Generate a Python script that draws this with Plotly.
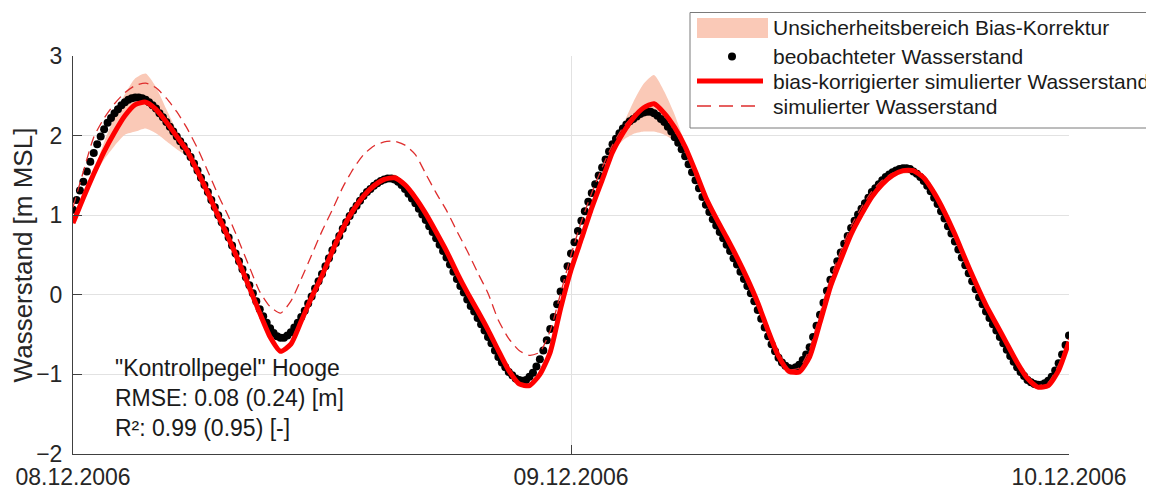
import pandas as pd
import plotly.graph_objects as go

start = "2006-12-08 00:00"
end = "2006-12-10 00:00"
obs_time = pd.date_range(start, periods=289, freq="10min")
sim_time = pd.date_range(start, periods=97, freq="30min")

# observed water level, 10-minute values (m MSL)
observed = [
    1.07, 1.19, 1.31, 1.42, 1.55, 1.67,
    1.78, 1.89, 1.99, 2.08, 2.16, 2.22,
    2.28, 2.33, 2.38, 2.42, 2.45, 2.47,
    2.48, 2.48, 2.47, 2.45, 2.42, 2.38,
    2.34, 2.28, 2.23, 2.17, 2.11, 2.05,
    1.99, 1.93, 1.87, 1.80, 1.73, 1.65,
    1.56, 1.47, 1.38, 1.29, 1.19, 1.10,
    1.00, 0.91, 0.81, 0.72, 0.62, 0.52,
    0.42, 0.32, 0.22, 0.12, 0.02, -0.08,
    -0.18, -0.27, -0.35, -0.42, -0.48, -0.52,
    -0.54, -0.54, -0.51, -0.47, -0.41, -0.35,
    -0.28, -0.20, -0.11, -0.02, 0.08, 0.17,
    0.26, 0.36, 0.46, 0.56, 0.65, 0.74,
    0.83, 0.91, 0.99, 1.06, 1.12, 1.18,
    1.24, 1.29, 1.33, 1.37, 1.40, 1.43,
    1.45, 1.46, 1.46, 1.45, 1.42, 1.38,
    1.33, 1.27, 1.21, 1.15, 1.08, 1.01,
    0.94, 0.86, 0.79, 0.71, 0.63, 0.55,
    0.47, 0.38, 0.29, 0.20, 0.11, 0.03,
    -0.06, -0.14, -0.21, -0.29, -0.37, -0.45,
    -0.53, -0.61, -0.70, -0.78, -0.85, -0.91,
    -0.97, -1.01, -1.05, -1.07, -1.08, -1.07,
    -1.03, -0.98, -0.90, -0.81, -0.70, -0.57,
    -0.43, -0.28, -0.12, 0.04, 0.20, 0.36,
    0.52, 0.66, 0.80, 0.93, 1.05, 1.17,
    1.28, 1.39, 1.50, 1.60, 1.70, 1.80,
    1.89, 1.96, 2.03, 2.09, 2.14, 2.18,
    2.21, 2.24, 2.27, 2.29, 2.30, 2.30,
    2.28, 2.25, 2.21, 2.17, 2.11, 2.05,
    1.98, 1.91, 1.83, 1.74, 1.64, 1.54,
    1.44, 1.34, 1.23, 1.13, 1.04, 0.95,
    0.87, 0.79, 0.71, 0.63, 0.55, 0.46,
    0.38, 0.29, 0.20, 0.11, 0.02, -0.08,
    -0.19, -0.30, -0.41, -0.52, -0.62, -0.71,
    -0.79, -0.85, -0.89, -0.92, -0.93, -0.91,
    -0.88, -0.82, -0.75, -0.66, -0.53, -0.39,
    -0.25, -0.10, 0.05, 0.19, 0.31, 0.42,
    0.53, 0.64, 0.74, 0.84, 0.93, 1.01,
    1.08, 1.15, 1.22, 1.29, 1.34, 1.39,
    1.44, 1.48, 1.51, 1.54, 1.56, 1.58,
    1.59, 1.59, 1.58, 1.55, 1.52, 1.48,
    1.43, 1.37, 1.30, 1.22, 1.14, 1.05,
    0.96, 0.86, 0.77, 0.67, 0.57, 0.47,
    0.37, 0.27, 0.17, 0.07, -0.03, -0.12,
    -0.21, -0.29, -0.37, -0.45, -0.53, -0.61,
    -0.69, -0.77, -0.84, -0.91, -0.97, -1.02,
    -1.07, -1.10, -1.12, -1.13, -1.13, -1.11,
    -1.08, -1.03, -0.95, -0.86, -0.75, -0.63,
    -0.51,
]

# bias-corrected simulated water level, 30-minute values
bias_corrected = [
    0.90, 1.22, 1.52, 1.80, 2.04, 2.25, 2.39, 2.42, 2.33, 2.17,
    1.99, 1.81, 1.55, 1.28, 0.99, 0.71, 0.41, 0.09, -0.23, -0.53,
    -0.71, -0.62, -0.33, -0.03, 0.24, 0.55, 0.83, 1.06, 1.24, 1.37,
    1.45, 1.47, 1.38, 1.22, 1.02, 0.79, 0.55, 0.28, 0.03, -0.20,
    -0.44, -0.70, -0.95, -1.12, -1.14, -1.00, -0.72, -0.17, 0.31, 0.70,
    1.09, 1.44, 1.79, 2.03, 2.22, 2.35, 2.40, 2.28, 2.10, 1.86,
    1.55, 1.22, 0.96, 0.72, 0.47, 0.20, -0.10, -0.45, -0.77, -0.96,
    -0.97, -0.78, -0.35, 0.10, 0.44, 0.76, 1.01, 1.23, 1.39, 1.50,
    1.56, 1.56, 1.47, 1.28, 1.04, 0.76, 0.45, 0.15, -0.13, -0.37,
    -0.61, -0.85, -1.05, -1.16, -1.14, -0.95, -0.59,
]

# simulated water level (without bias correction), 30-minute values
simulated = [
    1.10, 1.55, 1.98, 2.22, 2.40, 2.54, 2.63, 2.66, 2.60, 2.47,
    2.30, 2.09, 1.84, 1.55, 1.25, 0.98, 0.67, 0.35, 0.04, -0.15,
    -0.23, -0.08, 0.20, 0.50, 0.80, 1.07, 1.35, 1.58, 1.76, 1.87,
    1.92, 1.93, 1.88, 1.76, 1.52, 1.28, 1.06, 0.80, 0.55, 0.28,
    0.02, -0.32, -0.55, -0.70, -0.76, -0.72, -0.45, 0.02, 0.50, 0.92,
    1.28, 1.60, 1.88, 2.10, 2.25, 2.35, 2.38, 2.27, 2.08, 1.84,
    1.53, 1.21, 0.95, 0.71, 0.46, 0.19, -0.11, -0.45, -0.76, -0.94,
    -0.92, -0.68, -0.24, 0.20, 0.55, 0.86, 1.10, 1.30, 1.44, 1.53,
    1.56, 1.55, 1.46, 1.27, 1.03, 0.75, 0.44, 0.14, -0.14, -0.38,
    -0.62, -0.86, -1.05, -1.14, -1.10, -0.88, -0.55,
]

# uncertainty range of the bias correction, 30-minute values
band_upper = [
    0.90, 1.22, 1.55, 1.92, 2.24, 2.52, 2.72, 2.78, 2.61, 2.33,
    2.06, 1.83, 1.55, 1.28, 0.99, 0.71, 0.41, 0.09, -0.23, -0.53,
    -0.71, -0.62, -0.33, -0.03, 0.24, 0.55, 0.83, 1.06, 1.24, 1.37,
    1.47, 1.51, 1.40, 1.22, 1.02, 0.79, 0.55, 0.28, 0.03, -0.20,
    -0.44, -0.70, -0.95, -1.12, -1.14, -1.00, -0.72, -0.17, 0.31, 0.70,
    1.09, 1.44, 1.80, 2.13, 2.42, 2.65, 2.76, 2.55, 2.26, 1.90,
    1.55, 1.22, 0.96, 0.72, 0.47, 0.20, -0.10, -0.45, -0.77, -0.96,
    -0.97, -0.78, -0.35, 0.10, 0.44, 0.76, 1.01, 1.23, 1.39, 1.52,
    1.61, 1.61, 1.49, 1.28, 1.04, 0.76, 0.45, 0.15, -0.13, -0.37,
    -0.61, -0.85, -1.05, -1.16, -1.14, -0.95, -0.59,
]
band_lower = [
    0.90, 1.22, 1.49, 1.70, 1.87, 2.01, 2.05, 2.09, 2.03, 1.93,
    1.83, 1.74, 1.55, 1.28, 0.99, 0.71, 0.41, 0.09, -0.23, -0.53,
    -0.71, -0.62, -0.33, -0.03, 0.24, 0.55, 0.83, 1.06, 1.24, 1.37,
    1.43, 1.44, 1.36, 1.22, 1.02, 0.79, 0.55, 0.28, 0.03, -0.20,
    -0.44, -0.70, -0.95, -1.12, -1.14, -1.00, -0.72, -0.17, 0.31, 0.70,
    1.09, 1.44, 1.78, 1.94, 2.02, 2.05, 2.05, 2.01, 1.93, 1.81,
    1.55, 1.22, 0.96, 0.72, 0.47, 0.20, -0.10, -0.45, -0.77, -0.96,
    -0.97, -0.78, -0.35, 0.10, 0.44, 0.76, 1.01, 1.23, 1.39, 1.48,
    1.52, 1.52, 1.45, 1.28, 1.04, 0.76, 0.45, 0.15, -0.13, -0.37,
    -0.61, -0.85, -1.05, -1.16, -1.14, -0.95, -0.59,
]

y_ticks = [-2, -1, 0, 1, 2, 3]
x_tick_dates = ["2006-12-08", "2006-12-09", "2006-12-10"]
x_tick_labels = ["08.12.2006", "09.12.2006", "10.12.2006"]
legend_labels = [
    "Unsicherheitsbereich Bias-Korrektur",
    "beobachteter Wasserstand",
    "bias-korrigierter simulierter Wasserstand",
    "simulierter Wasserstand",
]
stats_text = '"Kontrollpegel" Hooge<br>RMSE: 0.08 (0.24) [m]<br>R²: 0.99 (0.95) [-]'

FONT = "Arial, Liberation Sans, Helvetica, sans-serif"
AXC = "#404040"
GRID = "#e2e2e2"
PINK = "rgb(250,201,183)"
RED = "#ff0000"
DRED = "rgb(222,45,45)"

# the page body adds an 8 px offset, so the figure is 8 px smaller than the window
OFF = 8
W, H = 1146, 481
ML, MR, MT, MB = 65, 85, 48, 35
PW, PH = W - ML - MR, H - MT - MB


def fx(p):
    return (p - OFF - ML) / PW


def fy(p):
    return (H - MB - (p - OFF)) / PH


fig = go.Figure()
fig.add_trace(go.Scatter(x=sim_time, y=band_lower, mode="lines",
                         line=dict(width=0, color="rgba(0,0,0,0)", shape="spline", smoothing=0.6),
                         showlegend=False, hoverinfo="skip"))
fig.add_trace(go.Scatter(x=sim_time, y=band_upper, mode="lines",
                         line=dict(width=0, color="rgba(0,0,0,0)", shape="spline", smoothing=0.6),
                         fill="tonexty", fillcolor=PINK, showlegend=False, name=legend_labels[0]))
fig.add_trace(go.Scatter(x=obs_time, y=observed, mode="markers",
                         marker=dict(size=8, color="black"), showlegend=False, name=legend_labels[1]))
fig.add_trace(go.Scatter(x=sim_time, y=simulated, mode="lines",
                         line=dict(color=DRED, width=1.3, dash="10px,6px", shape="spline", smoothing=0.6),
                         showlegend=False, name=legend_labels[3]))
fig.add_trace(go.Scatter(x=sim_time, y=bias_corrected, mode="lines",
                         line=dict(color=RED, width=5, shape="spline", smoothing=0.6),
                         showlegend=False, name=legend_labels[2]))

# statistics text
fig.add_annotation(
    text=stats_text, xref="paper", x=fx(113), yref="paper", y=fy(398),
    xanchor="left", yanchor="middle", align="left", showarrow=False,
    font=dict(size=23, color="#1a1a1a", family=FONT))

# legend drawn as a box with swatches and real text
shapes = [
    dict(type="rect", xref="paper", yref="paper", x0=fx(690), x1=fx(1153), y0=fy(128), y1=fy(12.5),
         fillcolor="white", line=dict(color="#7a7a7a", width=1), layer="above"),
    dict(type="rect", xref="paper", yref="paper", x0=fx(697), x1=fx(768), y0=fy(38), y1=fy(18),
         fillcolor=PINK, line=dict(width=0), layer="above"),
    dict(type="circle", xref="paper", yref="paper", x0=fx(728), x1=fx(736), y0=fy(60.5), y1=fy(52.5),
         fillcolor="black", line=dict(width=0), layer="above"),
    dict(type="line", xref="paper", yref="paper", x0=fx(697), x1=fx(763), y0=fy(81), y1=fy(81),
         line=dict(color=RED, width=5), layer="above"),
    dict(type="line", xref="paper", yref="paper", x0=fx(697), x1=fx(763), y0=fy(106), y1=fy(106),
         line=dict(color=DRED, width=1.3, dash="14px,8px"), layer="above"),
]
for lbl, yc in zip(legend_labels, [28, 56, 81, 106]):
    fig.add_annotation(text=lbl, xref="paper", yref="paper", x=fx(771), y=fy(yc),
                       xanchor="left", yanchor="middle", showarrow=False,
                       font=dict(size=21, color="#1a1a1a", family=FONT))

fig.update_layout(
    width=W, height=H,
    margin=dict(l=ML, r=MR, t=MT, b=MB, autoexpand=False),
    paper_bgcolor="white", plot_bgcolor="white",
    font=dict(family=FONT, color="#262626"),
    showlegend=False,
    shapes=shapes,
    xaxis=dict(type="date", range=[start, end], tickvals=x_tick_dates, ticktext=x_tick_labels,
               ticks="inside", ticklen=9, tickcolor=AXC, showline=True, linecolor=AXC, linewidth=1,
               showgrid=True, gridcolor=GRID, zeroline=False, ticklabelstandoff=2, automargin=False,
               tickfont=dict(size=23, color="#262626", family=FONT)),
    yaxis=dict(range=[-2, 3], tickvals=y_ticks, ticks="inside", ticklen=9, tickcolor=AXC,
               showline=True, linecolor=AXC, linewidth=1, showgrid=True, gridcolor=GRID,
               zeroline=False, ticklabelstandoff=5, automargin=False,
               tickfont=dict(size=23, color="#262626", family=FONT),
               title=dict(text="Wasserstand [m MSL]", font=dict(size=26, color="#262626", family=FONT),
                          standoff=13)),
)

fig.write_html("out.html")
